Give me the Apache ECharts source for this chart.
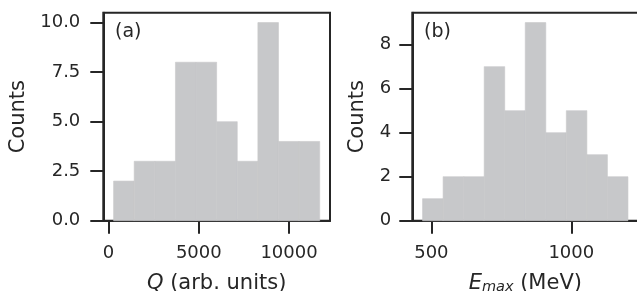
<!DOCTYPE html>
<html>
<head>
    <meta charset="UTF-8">
    <script src="https://cdn.jsdelivr.net/npm/echarts@6/dist/echarts.min.js"></script>
    <title>histograms</title>
    <style>
        html, body { margin: 0; padding: 0; background: #fff; }
        #main { width: 637px; height: 291px; }
    </style>
</head>
<body>
<div id="main"></div>
<script type="text/javascript">
    // (a) Q histogram: bin edges and counts
    var qEdges = [280, 1422, 2564, 3706, 4848, 5990, 7132, 8274, 9416, 10558, 11700];
    var qCounts = [2, 3, 3, 8, 8, 5, 3, 10, 4, 4];
    // (b) Emax histogram
    var eEdges = [468.5, 541.9, 615.3, 688.7, 762.1, 835.5, 908.9, 982.3, 1055.7, 1129.1, 1202.5];
    var eCounts = [1, 2, 2, 7, 5, 9, 4, 5, 3, 2];
    // tick labels
    var qTicks = [0, 5000, 10000];
    var qCountTicks = [0, 2.5, 5, 7.5, 10];
    var eTicks = [500, 1000];
    var eCountTicks = [0, 2, 4, 6, 8];

    var ink = '#262626';
    var barColor = '#c7c8ca';
    var font = 'DejaVu Sans';

    function bins(edges, counts) {
        var out = [];
        for (var i = 0; i < counts.length; i++) {
            out.push([edges[i], edges[i + 1], counts[i]]);
        }
        return out;
    }

    function renderBar(params, api) {
        var p0 = api.coord([api.value(0), 0]);
        var p1 = api.coord([api.value(1), api.value(2)]);
        return {
            type: 'rect',
            shape: { x: p0[0], y: p1[1], width: p1[0] - p0[0], height: p0[1] - p1[1] },
            style: { fill: barColor, stroke: barColor, lineWidth: 0.6 }
        };
    }

    function xAxis(idx, min, max, ticks, name) {
        return {
            type: 'value', gridIndex: idx, min: min, max: max,
            axisLine: { show: true, onZero: false, lineStyle: { color: ink, width: 2 } },
            axisTick: { show: true, length: 13, lineStyle: { color: ink, width: 2 }, customValues: ticks },
            axisLabel: { customValues: ticks, margin: 24, color: ink, fontSize: 18, fontFamily: font,
                formatter: function (v) { return String(v); } },
            splitLine: { show: false },
            name: name, nameLocation: 'middle', nameGap: 52,
            nameTextStyle: {
                color: ink, fontSize: 21, fontFamily: font,
                rich: {
                    i: { fontStyle: 'italic', fontSize: 21, fontFamily: font, color: ink, verticalAlign: 'top' },
                    s: { fontStyle: 'italic', fontSize: 14.5, fontFamily: font, color: ink, verticalAlign: 'top', padding: [7, 0, 0, 0] },
                    t: { fontSize: 21, fontFamily: font, color: ink, verticalAlign: 'top' }
                }
            }
        };
    }

    function yAxis(idx, max, ticks, margin, gap, fmt) {
        return {
            type: 'value', gridIndex: idx, min: 0, max: max,
            axisLine: { show: true, onZero: false, lineStyle: { color: ink, width: 2 } },
            axisTick: { show: true, length: 13, lineStyle: { color: ink, width: 2 }, customValues: ticks },
            axisLabel: { customValues: ticks, margin: margin, color: ink, fontSize: 18, fontFamily: font, formatter: fmt },
            splitLine: { show: false },
            name: 'Counts', nameLocation: 'middle', nameGap: gap,
            nameTextStyle: { color: ink, fontSize: 21, fontFamily: font }
        };
    }

    var myChart = echarts.init(document.getElementById('main'), null, { renderer: 'canvas' });
    myChart.setOption({
        animation: false,
        backgroundColor: '#fff',
        grid: [
            { left: 103.3, top: 12.7, width: 226.7, height: 208, outerBoundsMode: 'none', containLabel: false,
              show: true, borderColor: ink, borderWidth: 2, backgroundColor: 'transparent' },
            { left: 412.3, top: 12.7, width: 226, height: 208, outerBoundsMode: 'none', containLabel: false,
              show: true, borderColor: ink, borderWidth: 2, backgroundColor: 'transparent' }
        ],
        xAxis: [
            xAxis(0, -291, 12271, qTicks, '{i|Q} {t|(arb. units)}'),
            xAxis(1, 431.8, 1239.5, eTicks, '{i|E}{s|max}{t| (MeV)}')
        ],
        yAxis: [
            yAxis(0, 10.5, qCountTicks, 23, 74, function (v) { return v.toFixed(1); }),
            yAxis(1, 9.45, eCountTicks, 21, 44, function (v) { return String(v); })
        ],
        graphic: [
            { type: 'text', x: 115, y: 23, style: { text: '(a)', fill: ink, font: '19px "DejaVu Sans"', textVerticalAlign: 'top' } },
            { type: 'text', x: 424, y: 23, style: { text: '(b)', fill: ink, font: '19px "DejaVu Sans"', textVerticalAlign: 'top' } }
        ],
        series: [
            { type: 'custom', xAxisIndex: 0, yAxisIndex: 0, renderItem: renderBar, data: bins(qEdges, qCounts), z: 1 },
            { type: 'custom', xAxisIndex: 1, yAxisIndex: 1, renderItem: renderBar, data: bins(eEdges, eCounts), z: 1 }
        ]
    });
</script>
</body>
</html>
